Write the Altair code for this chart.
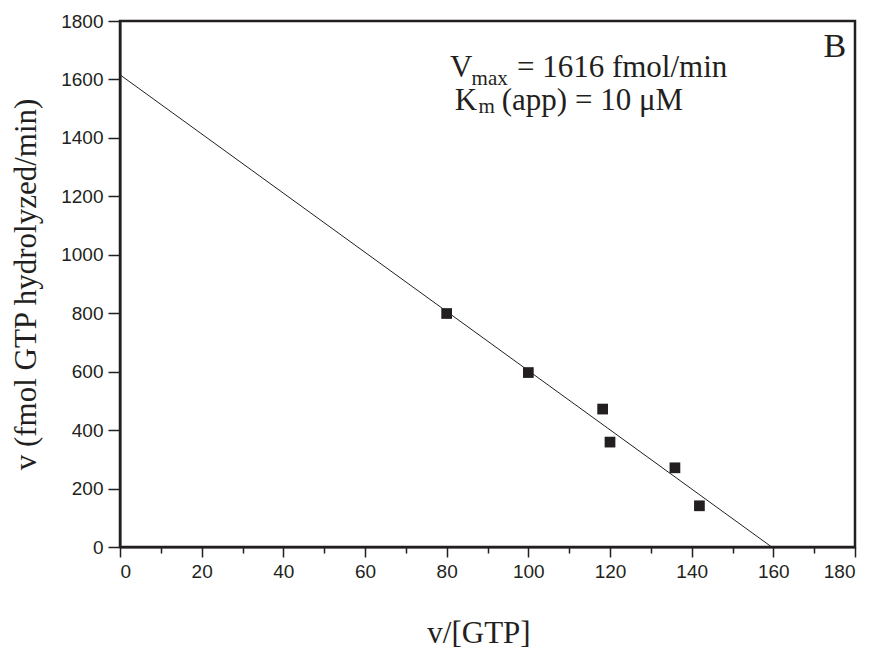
import altair as alt
import pandas as pd

# data
x_vals = [80, 100, 118.2, 120, 135.9, 141.9]
y_vals = [799, 597, 472, 359, 271, 141]
fit_x = [0, 159.6]
fit_y = [1616, 0]
x_ticks = list(range(0, 181, 10))
y_ticks = list(range(0, 1801, 100))

main_text = ["V", "= 1616 fmol/min", "K", "(app) = 10 μM"]
main_x = [80.8, 97.2, 82.0, 93.5]
main_y = [1607, 1607, 1494, 1494]
sub_text = ["max", "m"]
sub_x = [86.1, 87.8]
sub_y = [1580, 1484]
panel_text = ["B"]
panel_x = [172.3]
panel_y = [1676]

pts = pd.DataFrame({"x": x_vals, "y": y_vals})
fit = pd.DataFrame({"x": fit_x, "y": fit_y})
main_df = pd.DataFrame({"x": main_x, "y": main_y, "t": main_text})
sub_df = pd.DataFrame({"x": sub_x, "y": sub_y, "t": sub_text})
panel_df = pd.DataFrame({"x": panel_x, "y": panel_y, "t": panel_text})

SERIF = "Liberation Serif"
SANS = "Liberation Sans"
INK = "#231f20"

xscale = alt.Scale(domain=[0, 180], nice=False, zero=False)
yscale = alt.Scale(domain=[0, 1800], nice=False, zero=False)

xaxis = alt.Axis(
    values=x_ticks,
    format="d",
    labelExpr="datum.value % 20 === 0 ? datum.label : ''",
    labelOverlap=False,
    labelFont=SANS, labelFontSize=19, labelColor=INK, labelPadding=5,
    tickSize={"condition": {"test": "datum.value % 20 === 0", "value": 10}, "value": 6},
    tickColor=INK, tickWidth=1.5,
    domainColor=INK, domainWidth=2,
    grid=False,
    title="v/[GTP]",
    titleFont=SERIF, titleFontSize=31, titleFontWeight="normal", titleColor=INK,
    titleX=358.5, titleY=95, titleAlign="center", titleBaseline="alphabetic",
)
yaxis = alt.Axis(
    values=y_ticks,
    format="d",
    labelExpr="datum.value % 200 === 0 ? datum.label : ''",
    labelOverlap=False,
    labelFont=SANS, labelFontSize=19, labelColor=INK, labelPadding=5,
    tickSize={"condition": {"test": "datum.value % 200 === 0", "value": 12}, "value": 6},
    tickColor=INK, tickWidth=1.5,
    domainColor=INK, domainWidth=2,
    grid=False,
    title="v (fmol GTP hydrolyzed/min)",
    titleFont=SERIF, titleFontSize=31, titleFontWeight="normal", titleColor=INK,
    titleX=-94, titleY=263, titleAngle=-90, titleAlign="center", titleBaseline="middle",
)

line = alt.Chart(fit).mark_line(color=INK, strokeWidth=1).encode(
    x=alt.X("x:Q", scale=xscale, axis=xaxis),
    y=alt.Y("y:Q", scale=yscale, axis=yaxis),
)
points = alt.Chart(pts).mark_square(size=115, color=INK, opacity=1).encode(
    x=alt.X("x:Q", scale=xscale),
    y=alt.Y("y:Q", scale=yscale),
)
main = alt.Chart(main_df).mark_text(
    font=SERIF, fontSize=31, align="left", baseline="alphabetic", color=INK
).encode(x=alt.X("x:Q", scale=xscale), y=alt.Y("y:Q", scale=yscale), text="t:N")
sub = alt.Chart(sub_df).mark_text(
    font=SERIF, fontSize=21, align="left", baseline="alphabetic", color=INK
).encode(x=alt.X("x:Q", scale=xscale), y=alt.Y("y:Q", scale=yscale), text="t:N")
panel = alt.Chart(panel_df).mark_text(
    font=SERIF, fontSize=34, align="left", baseline="alphabetic", color=INK
).encode(x=alt.X("x:Q", scale=xscale), y=alt.Y("y:Q", scale=yscale), text="t:N")

chart = alt.layer(line, points, main, sub, panel).properties(
    width=735,
    height=526,
    autosize=alt.AutoSizeParams(type="none"),
    padding={"left": 112, "top": 13, "right": 10, "bottom": 102},
    background="white",
).configure_view(stroke=INK, strokeWidth=2.5)

chart.save("out.html", embed_options={"renderer": "svg", "actions": False})
